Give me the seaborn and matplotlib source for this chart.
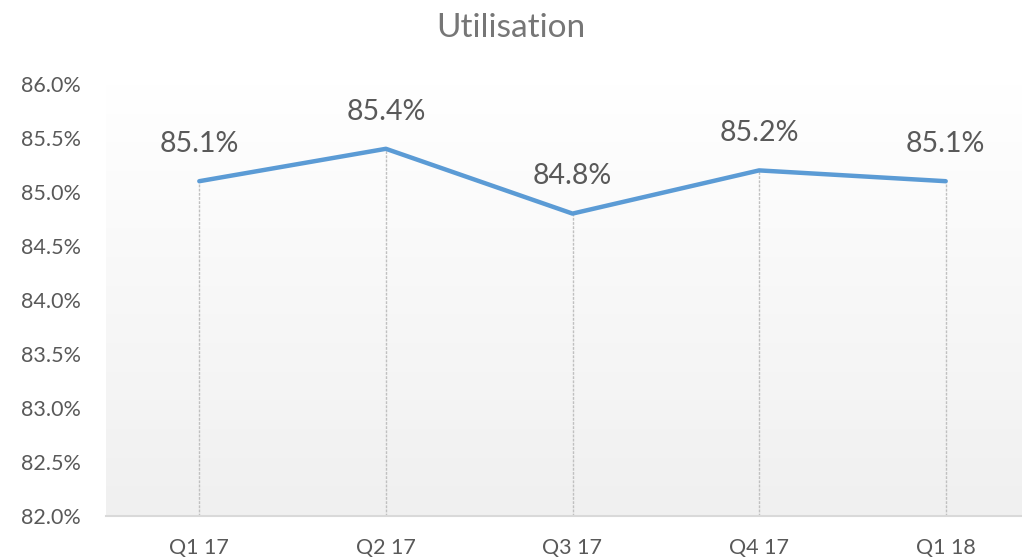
import numpy as np
import pandas as pd
import seaborn as sns
import matplotlib.pyplot as plt
from matplotlib.colors import LinearSegmentedColormap

# data
quarters = ["Q1 17", "Q2 17", "Q3 17", "Q4 17", "Q1 18"]
utilisation = [85.1, 85.4, 84.8, 85.2, 85.1]
y_ticks = [82.0, 82.5, 83.0, 83.5, 84.0, 84.5, 85.0, 85.5, 86.0]

df = pd.DataFrame({"quarter": quarters, "value": utilisation})
df["pos"] = range(len(df))

sns.set_style("white")
plt.rcParams["font.family"] = ["Lato", "DejaVu Sans"]

fig = plt.figure(figsize=(10.22, 5.59), dpi=100)
ax = fig.add_axes([106 / 1022, 1 - 516 / 559, (1022 - 106) / 1022, (516 - 84) / 559])

# gradient background (white top -> light grey bottom)
grad = np.linspace(0, 1, 256).reshape(-1, 1)
cmap = LinearSegmentedColormap.from_list("bg", ["#f0f0f0", "#ffffff"])
ax.imshow(grad, aspect="auto", cmap=cmap, extent=[0, 1, 0, 1], origin="lower",
          transform=ax.transAxes, zorder=0)

# drop lines
ax.vlines(df["pos"], 82.0, df["value"], colors="#c0c0c0", linestyles=(0, (2, 1)),
          linewidth=1.0, zorder=1)

sns.lineplot(data=df, x="pos", y="value", color="#5B9BD5", linewidth=3.2,
             ax=ax, zorder=3)

for p, v in zip(df["pos"], df["value"]):
    ax.text(p, v + 0.345, f"{v:.1f}%", ha="center", va="center",
            fontsize=20.5, color="#595959")

ax.set_xlim(-0.5, (1022 - 106) / 186.6 - 0.5)
ax.set_ylim(82.0, 86.0)
ax.set_yticks(y_ticks)
ax.set_yticklabels([f"{t:.1f}%" for t in y_ticks])
ax.set_xticks(df["pos"])
ax.set_xticklabels(quarters)
ax.tick_params(axis="y", length=0, pad=18, labelsize=15.5, labelcolor="#595959")
ax.tick_params(axis="x", length=0, pad=16, labelsize=15.5, labelcolor="#595959")
ax.set_xlabel("")
ax.set_ylabel("")

for s in ["top", "right", "left"]:
    ax.spines[s].set_visible(False)
ax.spines["bottom"].set_color("#d9d9d9")
ax.spines["bottom"].set_linewidth(1.5)
ax.spines["bottom"].set_zorder(2)

fig.text(0.5, 1 - 28 / 559, "Utilisation", ha="center", va="center",
         fontsize=24, color="#767676")

fig.savefig("out.png", dpi=100)
